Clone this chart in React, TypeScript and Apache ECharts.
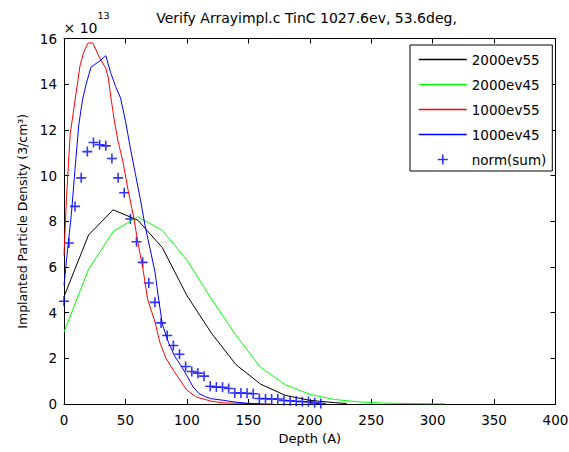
import React, { useEffect, useRef } from "react";
import * as echarts from "echarts";

const FONT = "'DejaVu Sans', 'Liberation Sans', Arial, sans-serif";

const titleText = "Verify Arrayimpl.c TinC 1027.6ev, 53.6deg,";
const xAxisName = "Depth (A)";
const yAxisName = "Implanted Particle Density (3/cm³)";
const seriesNames = ["2000ev55", "2000ev45", "1000ev55", "1000ev45", "norm(sum)"];
const seriesColors = ["#000000", "#00ff00", "#ff0000", "#0000ff", "#0000ff"];

// values in units of 1e13
const blackX = [0, 20, 40, 60, 80, 100, 120, 140, 160, 180, 200, 220, 230];
const blackY = [4.7, 7.4, 8.5, 8.05, 6.85, 4.75, 3.1, 1.72, 0.87, 0.38, 0.16, 0.06, 0.02];

const greenX = [0, 20, 40, 60, 80, 100, 120, 140, 160, 180, 200, 220, 240, 260, 280, 300, 310];
const greenY = [3.15, 5.9, 7.55, 8.2, 7.6, 6.3, 4.6, 3.0, 1.6, 0.85, 0.42, 0.2, 0.09, 0.04, 0.02, 0.01, 0.01];

const redX = [0, 2, 5, 9, 13, 16, 19.5, 23.5, 29, 34, 36, 38.5, 41, 44, 48, 52, 57, 60, 64, 68, 74, 78, 83, 90, 95, 100, 108, 120, 130, 150, 170];
const redY = [6.5, 9.0, 11.8, 13.3, 14.8, 15.4, 15.8, 15.8, 15.15, 14.7, 14.3, 13.3, 12.4, 11.5, 10.6, 9.4, 8.1, 7.1, 6.0, 4.6, 3.6, 2.7, 2.0, 1.4, 1.0, 0.6, 0.3, 0.12, 0.05, 0.02, 0];

const blueX = [0, 3, 6, 9, 12, 15, 18, 22, 26, 30, 34, 38, 42, 46, 50, 54, 58, 62, 66, 70, 74, 77, 80, 85, 90, 95, 100, 105, 110, 115, 120, 130, 140, 150, 160];
const blueY = [5.2, 6.8, 8.3, 10.3, 12.2, 13.3, 14.0, 14.75, 14.9, 15.05, 15.25, 14.5, 13.9, 13.4, 12.4, 11.2, 10.1, 9.0, 7.8, 6.8, 5.8, 4.6, 3.5, 2.7, 2.1, 1.7, 1.24, 0.75, 0.45, 0.32, 0.23, 0.16, 0.08, 0.03, 0.01];

const normX = [0, 4, 9, 14, 19, 24, 29, 34, 39, 44, 49, 54, 59, 64, 69, 74, 79, 84, 89, 94, 99, 104, 109, 114, 119, 124, 129, 134, 139, 144, 149, 154, 159, 164, 169, 174, 179, 184, 189, 194, 199, 204, 209];
const normY = [4.5, 7.05, 8.65, 9.9, 11.05, 11.45, 11.35, 11.3, 10.75, 9.9, 9.25, 8.1, 7.1, 6.2, 5.3, 4.45, 3.55, 3.0, 2.56, 2.18, 1.64, 1.42, 1.35, 1.22, 0.78, 0.74, 0.73, 0.68, 0.48, 0.48, 0.47, 0.45, 0.24, 0.23, 0.22, 0.22, 0.15, 0.14, 0.12, 0.1, 0.1, 0.05, 0.02];

const xTicks = { min: 0, max: 400, interval: 50 };
const yTicks = { min: 0, max: 16, interval: 2 };
const exponentBase = "× 10";
const exponentPower = "13";

const pairs = (xs: number[], ys: number[]) => xs.map((x, i) => [x, ys[i]]);

const PLUS = "path://M4.2,0H5.8V4.2H10V5.8H5.8V10H4.2V5.8H0V4.2H4.2Z";

export default function App() {
  const ref = useRef<HTMLDivElement>(null);
  useEffect(() => {
    if (!ref.current) return;
    const chart = echarts.init(ref.current, undefined, { renderer: "svg" });
    const axisCommon = {
      type: "value" as const,
      splitLine: { show: false },
      axisLine: { show: true, onZero: false, lineStyle: { color: "#000", width: 1 } },
      axisTick: { show: true, inside: true, length: 5, lineStyle: { color: "#000", width: 1 } },
    };
    const lineData = [
      pairs(blackX, blackY),
      pairs(greenX, greenY),
      pairs(redX, redY),
      pairs(blueX, blueY),
    ];
    chart.setOption({
      animation: false,
      backgroundColor: "#fff",
      grid: { left: 64, right: 13.5, top: 38.5, bottom: 48, containLabel: false, outerBoundsMode: "none" },
      xAxis: [
        {
          ...axisCommon,
          ...xTicks,
          position: "bottom",
          axisLabel: { color: "#000", fontSize: 13.5, fontFamily: FONT, margin: 9 },
          name: xAxisName,
          nameLocation: "middle",
          nameGap: 26,
          nameTextStyle: { color: "#000", fontSize: 13, fontFamily: FONT },
        },
        { ...axisCommon, ...xTicks, position: "top", axisLabel: { show: false } },
      ],
      yAxis: [
        {
          ...axisCommon,
          ...yTicks,
          position: "left",
          axisLabel: { color: "#000", fontSize: 13.5, fontFamily: FONT, margin: 7 },
          name: yAxisName,
          nameLocation: "middle",
          nameGap: 28,
          nameTextStyle: { color: "#000", fontSize: 12.5, fontFamily: FONT },
        },
        { ...axisCommon, ...yTicks, position: "right", axisLabel: { show: false } },
      ],
      legend: {
        orient: "vertical",
        left: 410,
        top: 45,
        itemWidth: 48,
        itemHeight: 10,
        itemGap: 10,
        padding: [7, 6, 4, 8],
        borderColor: "#000",
        borderWidth: 1,
        borderRadius: 0,
        backgroundColor: "#fff",
        textStyle: { color: "#000", fontSize: 13.5, fontFamily: FONT, lineHeight: 15 },
        data: seriesNames.map((n, i) =>
          i < 4
            ? { name: n, itemStyle: { opacity: 0 }, lineStyle: { width: 1.5, color: seriesColors[i] } }
            : { name: n }
        ),
      },
      graphic: [
        {
          type: "text",
          x: 306.5,
          y: 17.5,
          style: { text: titleText, fill: "#000", font: `14px ${FONT}`, textAlign: "center", textVerticalAlign: "middle" },
        },
        {
          type: "text",
          x: 63.5,
          y: 28,
          style: { text: exponentBase, fill: "#000", font: `14px ${FONT}`, textAlign: "left", textVerticalAlign: "middle" },
        },
        {
          type: "text",
          x: 97.5,
          y: 15,
          style: { text: exponentPower, fill: "#000", font: `9.5px ${FONT}`, textAlign: "left", textVerticalAlign: "middle" },
        },
      ],
      series: [
        ...lineData.map((d, i) => ({
          name: seriesNames[i],
          type: "line",
          data: d,
          symbol: "none",
          showSymbol: false,
          lineStyle: { color: seriesColors[i], width: 1 },
          itemStyle: { color: seriesColors[i] },
          xAxisIndex: 0,
          yAxisIndex: 0,
        })),
        {
          name: seriesNames[4],
          type: "scatter",
          data: pairs(normX, normY),
          symbol: PLUS,
          symbolSize: 10,
          itemStyle: { color: seriesColors[4] },
          xAxisIndex: 0,
          yAxisIndex: 0,
        },
      ],
    });
    return () => chart.dispose();
  }, []);
  return <div ref={ref} style={{ width: 569, height: 452, position: "absolute", left: 0, top: 0 }} />;
}
